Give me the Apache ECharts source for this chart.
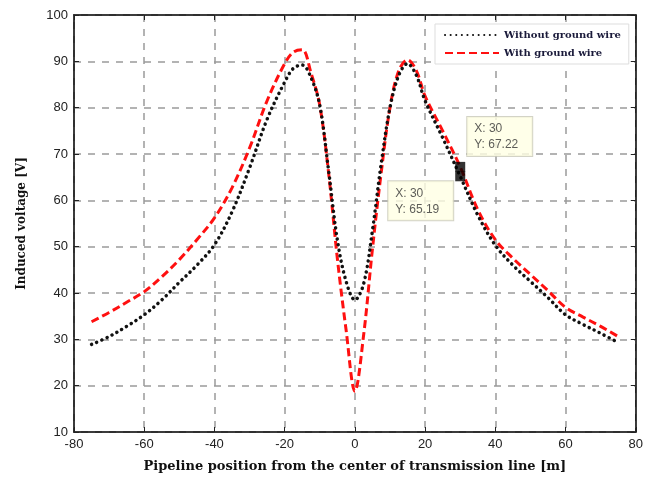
<!DOCTYPE html>
<html>
<head>
<meta charset="utf-8">
<script src="https://cdn.jsdelivr.net/npm/echarts@6/dist/echarts.min.js"></script>
<style>
html,body{margin:0;padding:0;background:#fff;}
#chart{width:646px;height:479px;}
</style>
</head>
<body>
<div id="chart"></div>
<script>
var xPositions = [-75, -70, -65, -60, -55, -50, -45, -40, -35, -30, -25, -20, -17.5, -15, -12.5, -10, -7.5, -5, -2.5, 0, 2.5, 5, 7.5, 10, 12.5, 15, 17.5, 20, 25, 30, 35, 40, 45, 50, 55, 60, 65, 70, 75];
var withoutGround = [28.9, 30.6, 32.8, 35.3, 38.5, 42.3, 46, 50.4, 57.5, 67, 77.5, 85.5, 88.5, 89.2, 86.5, 80.5, 66.5, 51.5, 42.5, 38.5, 42, 53.5, 68, 80, 87, 89.5, 87, 81.5, 73.5, 65.19, 56.8, 50.3, 46, 42.5, 39, 35.3, 33.2, 31.3, 29.3];
var withGround = [33.8, 35.8, 38, 40.3, 43.5, 47.2, 51.5, 56.2, 62.7, 71.3, 81.5, 89.5, 92, 92.5, 87.5, 80.5, 66, 47.5, 32, 18.8, 31, 49.5, 66, 80, 88, 90.3, 88, 82.5, 75, 67.22, 58, 51.5, 47.5, 44, 40.5, 36.9, 34.8, 32.8, 30.6];
var seriesNames = ['Without ground wire', 'With ground wire'];
var tipX = 30;
var tipWith = 67.22;
var tipWithout = 65.19;

function pairs(xs, ys) { return xs.map(function (x, i) { return [x, ys[i]]; }); }

var serif = '"DejaVu Serif", "Liberation Serif", serif';
var sans = '"Liberation Sans", Arial, sans-serif';
var gridLine = { show: true, lineStyle: { color: '#9a9a9a', width: 1.5, type: [7, 7] } };
var frameAxisLine = { show: true, onZero: false, lineStyle: { color: '#222', width: 1.5 } };
var innerTick = { show: true, inside: true, length: 5, lineStyle: { color: '#222' } };

var chart = echarts.init(document.getElementById('chart'), null, { renderer: 'canvas' });
chart.setOption({
  animation: false,
  backgroundColor: '#fff',
  grid: { left: 74, right: 9, top: 15, bottom: 47, show: true, borderColor: '#222', borderWidth: 1.5, backgroundColor: 'transparent' },
  legend: {
    orient: 'vertical', left: 435, top: 24,
    backgroundColor: '#fff', borderColor: '#ddd', borderWidth: 1,
    padding: [6, 8, 6, 9], itemGap: 8, itemWidth: 54, itemHeight: 10,
    itemStyle: { opacity: 0 },
    textStyle: { fontFamily: serif, fontWeight: 'bold', fontSize: 10, color: '#1a1a3a' },
    data: seriesNames
  },
  xAxis: [{
    type: 'value', min: -80, max: 80, interval: 20,
    name: 'Pipeline position from the center of transmission line [m]',
    nameLocation: 'middle', nameGap: 28,
    nameTextStyle: { fontFamily: serif, fontWeight: 'bold', fontSize: 13, color: '#111' },
    axisLine: frameAxisLine, axisTick: innerTick,
    axisLabel: { fontFamily: sans, fontSize: 13, color: '#222', margin: 6 },
    splitLine: gridLine
  }, {
    type: 'value', position: 'top', min: -80, max: 80, interval: 20,
    axisLine: frameAxisLine, axisTick: innerTick,
    axisLabel: { show: false }, splitLine: { show: false }
  }],
  yAxis: [{
    type: 'value', min: 10, max: 100, interval: 10,
    name: 'Induced voltage [V]',
    nameLocation: 'middle', nameGap: 46, nameRotate: 90,
    nameTextStyle: { fontFamily: serif, fontWeight: 'bold', fontSize: 12, color: '#111' },
    axisLine: frameAxisLine, axisTick: innerTick,
    axisLabel: { fontFamily: sans, fontSize: 13, color: '#222', margin: 6 },
    splitLine: gridLine
  }, {
    type: 'value', position: 'right', min: 10, max: 100, interval: 10,
    axisLine: frameAxisLine, axisTick: innerTick,
    axisLabel: { show: false }, splitLine: { show: false }
  }],
  series: [
    {
      name: seriesNames[0], type: 'line', data: pairs(xPositions, withoutGround),
      smooth: 0.35, showSymbol: false, symbol: 'none', z: 3,
      itemStyle: { color: '#111' },
      lineStyle: { color: '#111', width: 3.5, type: [0.1, 5.5], cap: 'round' }
    },
    {
      name: seriesNames[1], type: 'line', data: pairs(xPositions, withGround),
      smooth: 0.35, showSymbol: false, symbol: 'none', z: 2,
      itemStyle: { color: '#ff1010' },
      lineStyle: { color: '#ff1010', width: 3, type: [8, 4] }
    },
    {
      type: 'scatter', symbol: 'rect', symbolSize: 10, z: 5,
      itemStyle: { color: '#000' },
      data: [
        { value: [tipX, tipWith], label: { show: true, position: [12, -45], formatter: 'X: ' + tipX + '\nY: ' + tipWith } },
        { value: [tipX, tipWithout], label: { show: true, position: [-67, 10], formatter: 'X: ' + tipX + '\nY: ' + tipWithout } }
      ],
      label: {
        fontFamily: sans, fontSize: 12, color: '#333', lineHeight: 16,
        backgroundColor: '#ffffe4', borderColor: '#c8c8b8', borderWidth: 1,
        padding: [4, 6, 3, 7], width: 52
      },
      tooltip: { show: false }
    }
  ]
});
</script>
</body>
</html>
